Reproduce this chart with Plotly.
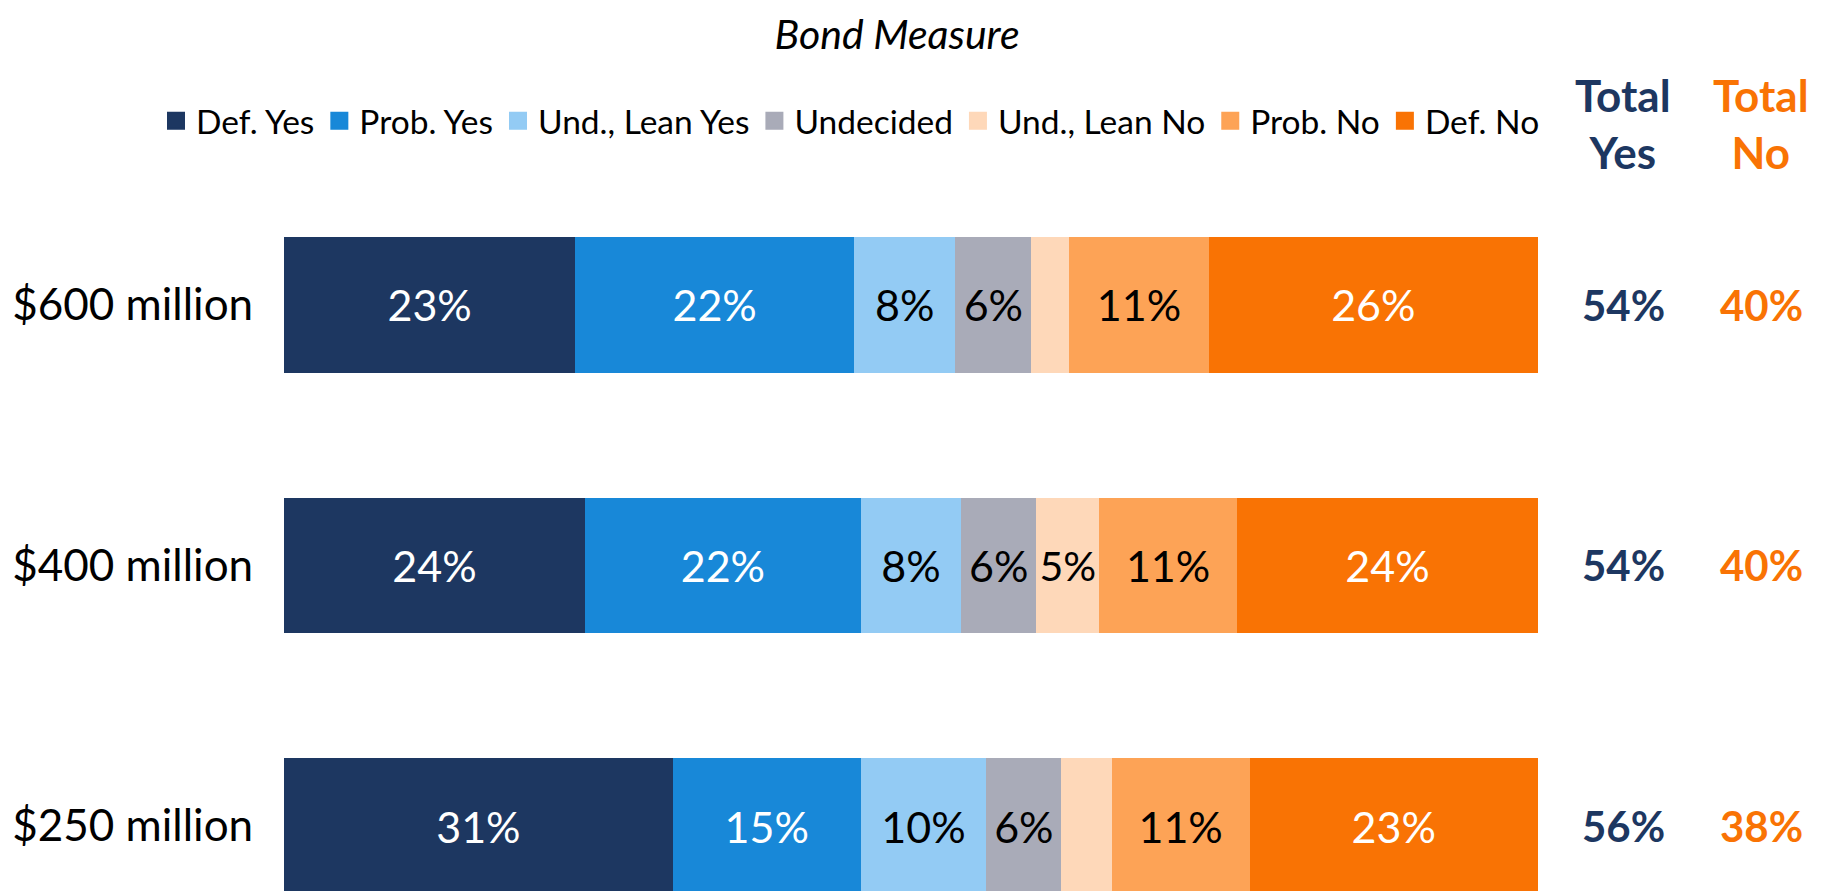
import plotly.graph_objects as go

categories = ["$250 million", "$400 million", "$600 million"]
series_names = ["Def. Yes", "Prob. Yes", "Und., Lean Yes", "Undecided", "Und., Lean No", "Prob. No", "Def. No"]
def_yes = [31, 24, 23]
prob_yes = [15, 22, 22]
lean_yes = [10, 8, 8]
undecided = [6, 6, 6]
lean_no = [4, 5, 3]
prob_no = [11, 11, 11]
def_no = [23, 24, 26]
total_yes = [56, 54, 54]
total_no = [38, 40, 40]

colors = ["#1D3761", "#1888D8", "#93CBF4", "#A9ABB8", "#FED8B9", "#FDA356", "#F97304"]
label_colors = ["white", "white", "black", "black", "black", "black", "white"]
series_values = [def_yes, prob_yes, lean_yes, undecided, lean_no, prob_no, def_no]

FONT = "Lato"
NAVY = "#1D3761"
ORANGE = "#F97304"

# page geometry (page px = screen px - 8 because of body margin)
W, H = 1824, 891
L, T, B = 276, 162, 8
PW = 1254
R = W - L - PW
PH = H - T - B

def px_x(p):
    return (p - L) / PW

def px_y(p):
    return 1 + (T - p) / PH

fig = go.Figure()
for name, vals, col, lc in zip(series_names, series_values, colors, label_colors):
    fig.add_trace(go.Bar(
        y=categories, x=vals, name=name, orientation="h",
        marker=dict(color=col, line=dict(width=0)),
        text=[f"{v}%" if v >= 5 else "" for v in vals],
        textposition="inside", insidetextanchor="middle", textangle=0,
        textfont=dict(family=FONT, size=43, color=lc),
        hoverinfo="skip", showlegend=False,
    ))
    # legend entry with a larger square swatch
    fig.add_trace(go.Scatter(
        x=[None], y=[None], mode="markers", name=name,
        marker=dict(symbol="square", size=16, color=col, line=dict(color=col, width=2)),
        hoverinfo="skip", showlegend=True,
    ))

for cat, ty, tn in zip(categories, total_yes, total_no):
    fig.add_annotation(x=px_x(1615), y=cat, xref="paper", yref="y", text=f"<b>{ty}%</b>",
                       xanchor="center", yanchor="middle", showarrow=False,
                       font=dict(family=FONT, size=42, color=NAVY))
    fig.add_annotation(x=px_x(1753), y=cat, xref="paper", yref="y", text=f"<b>{tn}%</b>",
                       xanchor="center", yanchor="middle", showarrow=False,
                       font=dict(family=FONT, size=42, color=ORANGE))

fig.add_annotation(x=px_x(1615), y=px_y(115), xref="paper", yref="paper",
                   text="<b>Total<br>Yes</b>", xanchor="center", yanchor="middle",
                   align="center", showarrow=False,
                   font=dict(family=FONT, size=44, color=NAVY))
fig.add_annotation(x=px_x(1753), y=px_y(115), xref="paper", yref="paper",
                   text="<b>Total<br>No</b>", xanchor="center", yanchor="middle",
                   align="center", showarrow=False,
                   font=dict(family=FONT, size=44, color=ORANGE))

fig.update_layout(
    width=W, height=H,
    barmode="stack", barnorm="percent", bargap=0.48,
    paper_bgcolor="white", plot_bgcolor="white",
    margin=dict(l=L, r=R, t=T, b=B, autoexpand=False),
    title=dict(text="<i>Bond Measure</i>", x=889 / W, xanchor="center",
               y=1 - 12 / H, yanchor="top",
               font=dict(family=FONT, size=41, color="black")),
    legend=dict(orientation="h", x=px_x(148), xanchor="left",
                y=px_y(113), yanchor="middle",
                font=dict(family=FONT, size=33.5, color="black"),
                itemsizing="trace", traceorder="normal",
                itemwidth=30, bgcolor="rgba(0,0,0,0)"),
    xaxis=dict(range=[0, 100], visible=False, fixedrange=True),
    yaxis=dict(categoryorder="array", categoryarray=categories,
               range=[-0.249, 2.517], showgrid=False, zeroline=False, showline=False,
               ticks="outside", ticklen=21, tickcolor="rgba(0,0,0,0)",
               tickfont=dict(family=FONT, size=44, color="black")),
)

fig.write_html("out.html")
